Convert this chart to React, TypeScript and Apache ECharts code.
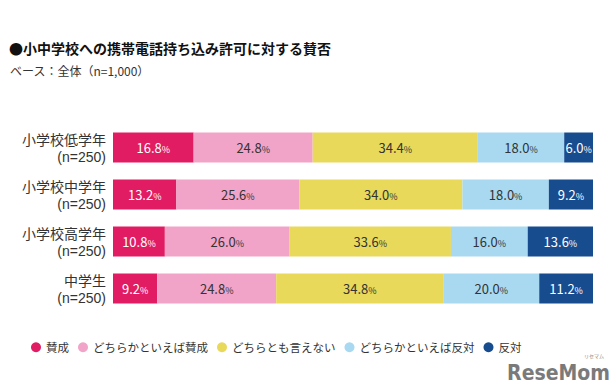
import React, { useEffect, useRef } from "react";
import * as echarts from "echarts";

const categories = ["小学校低学年", "小学校中学年", "小学校高学年", "中学生"];
const sampleSizes = ["(n=250)", "(n=250)", "(n=250)", "(n=250)"];
const seriesNames = ["賛成", "どちらかといえば賛成", "どちらとも言えない", "どちらかといえば反対", "反対"];
const agree = [16.8, 13.2, 10.8, 9.2];
const ratherAgree = [24.8, 25.6, 26.0, 24.8];
const neutral = [34.4, 34.0, 33.6, 34.8];
const ratherDisagree = [18.0, 18.0, 16.0, 20.0];
const disagree = [6.0, 9.2, 13.6, 11.2];
const colors = ["#e21c62", "#f1a4c8", "#e8d95a", "#a9d9f1", "#174c8f"];
const labelColors = ["#ffffff", "#333333", "#333333", "#333333", "#ffffff"];

const FONT = "'Noto Sans CJK JP', 'Noto Sans', sans-serif";
const LATIN = "'Liberation Sans', Arial, sans-serif";

export default function App() {
  const ref = useRef<HTMLDivElement>(null);
  useEffect(() => {
    if (!ref.current) return;
    const chart = echarts.init(ref.current, null, { renderer: "svg" });
    const data = [agree, ratherAgree, neutral, ratherDisagree, disagree];
    const axisBase = {
      type: "category",
      inverse: true,
      position: "left",
      axisLine: { show: false },
      axisTick: { show: false },
      splitLine: { show: false },
    };
    chart.setOption({
      animation: false,
      backgroundColor: "#ffffff",
      textStyle: { fontFamily: FONT },
      graphic: [
        {
          type: "text",
          left: 9,
          top: 41,
          style: { text: "●小中学校への携帯電話持ち込み許可に対する賛否", font: `bold 14px ${FONT}`, fill: "#111" },
        },
        {
          type: "text",
          left: 10,
          top: 64,
          style: { text: "ベース：全体（n=1,000）", font: `12px ${FONT}`, fill: "#333" },
        },
        {
          type: "text",
          right: 6,
          top: 362,
          style: { text: "ReseMom", font: `bold 21px 'DejaVu Sans Condensed', 'Liberation Sans Narrow', sans-serif`, fill: "#7a7a7a" },
        },
        {
          type: "text",
          right: 12,
          top: 353,
          style: { text: "リセマム", font: `5px ${FONT}`, fill: "#888" },
        },
      ],
      legend: {
        bottom: 34,
        left: 26,
        icon: "circle",
        itemWidth: 10,
        itemHeight: 10,
        itemGap: 9,
        textStyle: { fontSize: 11.5, color: "#333", fontFamily: FONT },
        data: seriesNames,
      },
      grid: { left: 113, right: 23, top: 124, height: 188 },
      xAxis: { type: "value", min: 0, max: 100, show: false },
      yAxis: [
        {
          ...axisBase,
          data: categories,
          axisLabel: { fontSize: 14, color: "#333", margin: 7, align: "right", verticalAlign: "bottom", lineHeight: 15, padding: [0, 0, 1, 0], fontFamily: FONT },
        },
        {
          ...axisBase,
          data: sampleSizes,
          axisLabel: { fontSize: 14, color: "#333", margin: 7, align: "right", verticalAlign: "top", lineHeight: 15, padding: [2, 0, 0, 0], fontFamily: LATIN },
        },
      ],
      series: seriesNames.map((name, i) => ({
        name,
        type: "bar",
        stack: "total",
        yAxisIndex: 0,
        barWidth: 30,
        itemStyle: { color: colors[i] },
        data: data[i],
        label: {
          show: true,
          position: "inside",
          formatter: (p: any) => `{v|${p.value.toFixed(1)}}{p|%}`,
          rich: {
            v: { fontSize: 13, color: labelColors[i], fontFamily: FONT },
            p: { fontSize: 9, color: labelColors[i], fontFamily: FONT, padding: [3, 0, 0, 0] },
          },
        },
      })),
    });
    return () => chart.dispose();
  }, []);
  return <div ref={ref} style={{ position: "fixed", left: 0, top: 0, width: 616, height: 392 }} />;
}
